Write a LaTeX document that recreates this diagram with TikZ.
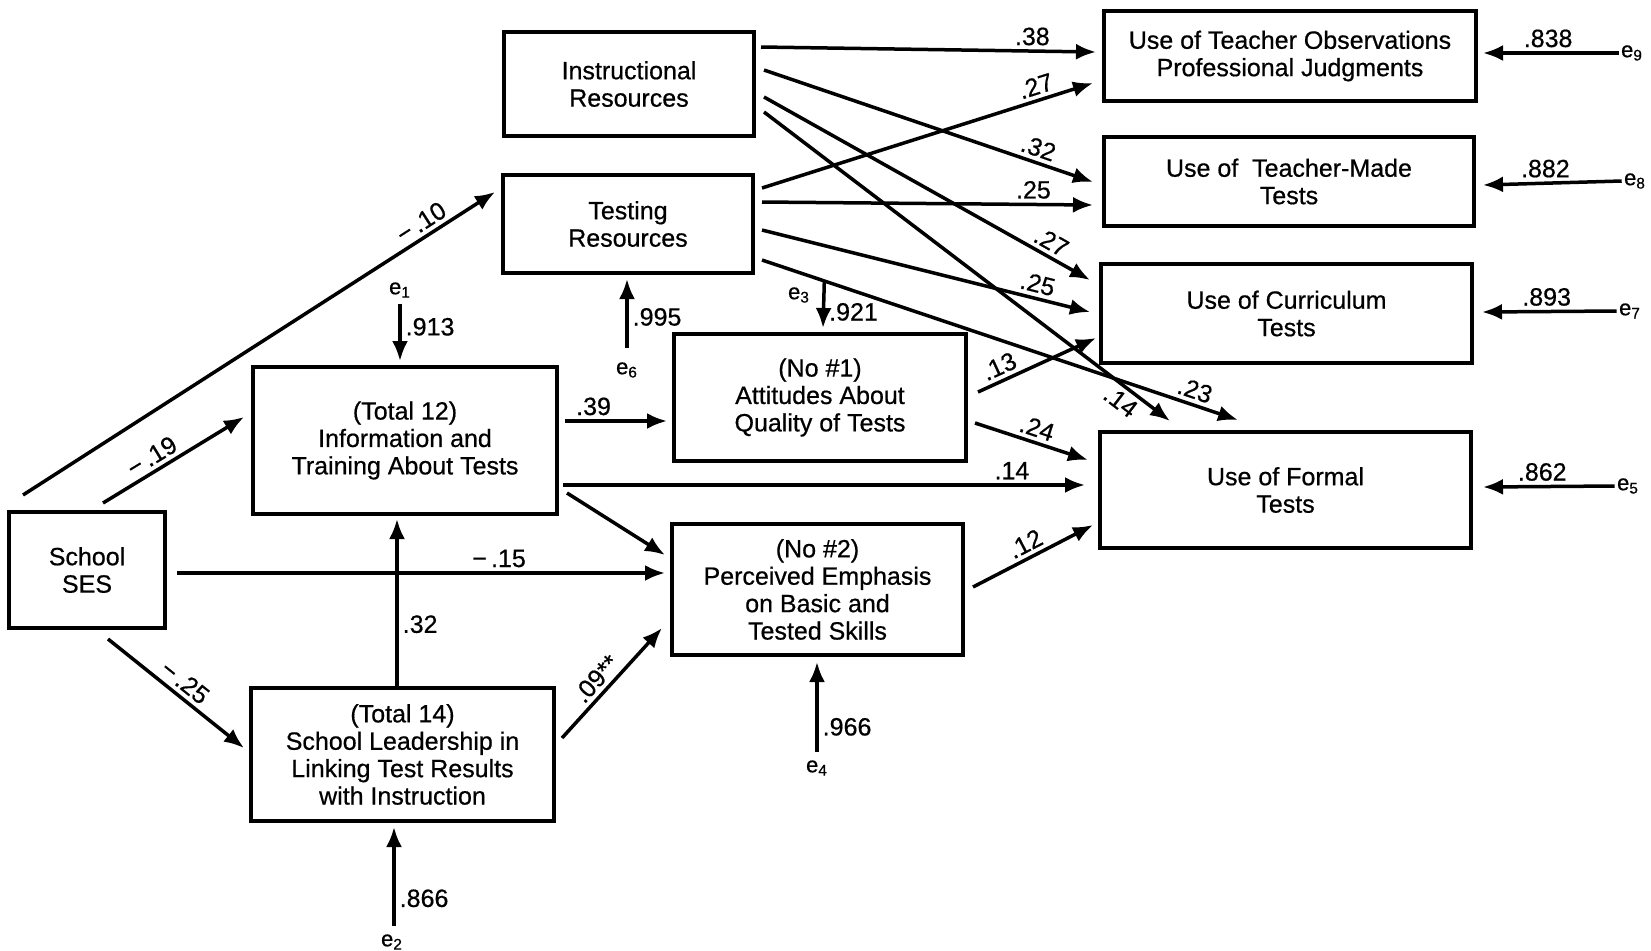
\documentclass[tikz,border=0pt]{standalone}
\usepackage{fontspec}
\setmainfont{Liberation Sans}[FakeBold=0.6,AutoFakeBold=0.6]
\usetikzlibrary{arrows.meta,calc}
\newcommand\boxfont{\fontsize{12.5pt}{13.7pt}\selectfont\bfseries}
\newcommand\errfont{\fontsize{11pt}{12pt}\selectfont\bfseries}
\begin{document}
\begin{tikzpicture}[x=0.5pt,y=-0.5pt,
  box/.style={draw, line width=2pt, inner sep=0pt, align=center, font=\boxfont},
  arr/.style={line width=1.75pt, -{Latex[length=10pt,width=8pt]}},
  lab/.style={font=\boxfont, inner sep=2pt},
  err/.style={font=\errfont, inner sep=1pt}]
\useasboundingbox[fill=white] (0,0) rectangle (1651,950);

% boxes
\node[box, minimum width=125pt, minimum height=52pt] (instr) at (629,84) {Instructional\\Resources};
\node[box, minimum width=125pt, minimum height=49pt] (testing) at (628,224) {Testing\\Resources};
\node[box, minimum width=186pt, minimum height=45pt] (obs) at (1290,56) {Use of Teacher Observations\\Professional Judgments};
\node[box, minimum width=185pt, minimum height=44.5pt] (made) at (1289,181.5) {Use of \ Teacher-Made\\Tests};
\node[box, minimum width=185.5pt, minimum height=49.5pt] (curr) at (1286.5,313.5) {Use of Curriculum\\Tests};
\node[box, minimum width=185.5pt, minimum height=58pt] (formal) at (1285.5,490) {Use of Formal\\Tests};
\node[box, minimum width=152pt, minimum height=73.5pt] (t12) at (405,440.5) {(Total 12)\\Information and\\Training About Tests};
\node[box, minimum width=146pt, minimum height=63.5pt] (att) at (820,397.5) {(No \#1)\\Attitudes About\\Quality of Tests};
\node[box, minimum width=145.5pt, minimum height=65.5pt] (emph) at (817.5,589.5) {(No \#2)\\Perceived Emphasis\\on Basic and\\Tested Skills};
\node[box, minimum width=78pt, minimum height=58pt] (ses) at (87,570) {School\\SES};
\node[box, minimum width=151.5pt, minimum height=66.5pt] (t14) at (402.5,754.5) {(Total 14)\\School Leadership in\\Linking Test Results\\with Instruction};

% error terms
\node[err] (e1) at (400,290) {e\textsubscript{1}};
\node[err] (e2) at (392,942) {e\textsubscript{2}};
\node[err] (e3) at (799,295) {e\textsubscript{3}};
\node[err] (e4) at (817,768) {e\textsubscript{4}};
\node[err] (e6) at (627,370) {e\textsubscript{6}};
\node[err] (e9) at (1632,53) {e\textsubscript{9}};
\node[err] (e8) at (1635,181) {e\textsubscript{8}};
\node[err] (e7) at (1630,311) {e\textsubscript{7}};
\node[err] (e5) at (1628,486) {e\textsubscript{5}};

% instructional resources outgoing
\draw[arr] ($(instr.east)+(5,-37)$) -- node[lab,pos=.81,above]{.38} ($(obs.west)+(-6,-4)$);
\draw[arr] ($(instr.east)+(8,-14)$) -- node[lab,pos=.82,above,sloped]{.32} ($(made.west)+(-9,0.5)$);
\draw[arr] ($(instr.east)+(8,13)$) -- node[lab,pos=.86,above,sloped]{.27} ($(curr.west)+(-9,-33.5)$);
\draw[arr] ($(instr.east)+(8,28)$) -- node[lab,pos=.9,below,sloped]{.14} ($(formal.north west)+(72,-9)$);

% testing resources outgoing
\draw[arr] ($(testing.east)+(7,-36)$) -- node[lab,pos=.84,above,sloped]{.27} ($(obs.west)+(-9,27)$);
\draw[arr] ($(testing.east)+(7,-22)$) -- node[lab,pos=.82,above]{.25} ($(made.west)+(-9,23.5)$);
\draw[arr] ($(testing.east)+(7,6)$) -- node[lab,pos=.83,above,sloped]{.25} ($(curr.west)+(-9,-1.5)$);
\draw[arr] ($(testing.east)+(7,36)$) -- node[lab,pos=.9,above,sloped]{.23} ($(formal.north)+(-47.5,-10)$);

% attitudes / emphasis outgoing
\draw[arr] ($(att.east)+(10,-5.5)$) -- node[lab,pos=.23,above,sloped]{.13} ($(curr.west)+(-3,24.5)$);
\draw[arr] ($(att.east)+(7,25.5)$) -- node[lab,pos=.51,above,sloped]{.24} ($(formal.west)+(-10,-30)$);
\draw[arr] ($(emph.east)+(8,-2.5)$) -- node[lab,pos=.49,above,sloped]{.12} ($(formal.west)+(-5,35)$);

% total 12 outgoing
\draw[arr] ($(t12.east)+(6,-19.5)$) -- node[lab,pos=.28,above]{.39} ($(att.west)+(-5,23.5)$);
\draw[arr] ($(t12.east)+(8,52.5)$) -- ($(emph.west)+(-5,-34.5)$);
\draw[arr] ($(t12.east)+(4,44.5)$) -- node[lab,pos=.86,above]{.14} ($(formal.west)+(-13,-5)$);

% school SES outgoing
\draw[arr] ($(ses.north west)+(16,-15)$) -- node[lab,pos=.86,above,sloped]{−\,.10} ($(testing.west)+(-6,-32)$);
\draw[arr] ($(ses.north)+(16,-7)$) -- node[lab,pos=.4,above,sloped]{−\,.19} ($(t12.west)+(-7,-23.5)$);
\draw[arr] ($(ses.east)+(10,3)$) -- node[lab,pos=.66,above]{−\,.15} ($(emph.west)+(-5,-16.5)$);
\draw[arr] ($(ses.south)+(21,9)$) -- node[lab,pos=.5,above,sloped]{−\,.25} ($(t14.west)+(-5,-6.5)$);

% total 14 outgoing
\draw[arr] ($(t14.north)+(-5.5,0)$) -- node[lab,pos=.37,right]{.32} ($(t12.south)+(-8,3)$);
\draw[arr] ($(t14.east)+(6,-16.5)$) -- node[lab,pos=.45,above,sloped]{.09**} ($(emph.west)+(-8,38.5)$);

% error arrows
\draw[arr] ($(e1.south)+(0,4)$) -- node[lab,pos=.4,right]{.913} ($(t12.north)+(-5,-4)$);
\draw[arr] ($(e2.north)+(2,-6)$) -- node[lab,pos=.28,right]{.866} ($(t14.south)+(-8.5,4)$);
\draw[arr] ($(e3.east)+(12,-13)$) -- node[lab,pos=.65,right]{.921} ($(att.north)+(3,-4)$);
\draw[arr] ($(e4.north)+(0,-6)$) -- node[lab,pos=.28,right]{.966} ($(emph.south)+(-0.5,5)$);
\draw[arr] ($(e6.north)+(0,-12)$) -- node[lab,pos=.45,right]{.995} ($(testing.south)+(-1,4)$);
\draw[arr] (e9.west) -- node[lab,pos=.52,above]{.838} ($(obs.east)+(5,-3)$);
\draw[arr] (e8.west) -- node[lab,pos=.55,above]{.882} ($(made.east)+(7,3.5)$);
\draw[arr] (e7.west) -- node[lab,pos=.52,above]{.893} ($(curr.east)+(8,-1.5)$);
\draw[arr] (e5.west) -- node[lab,pos=.55,above]{.862} ($(formal.east)+(10,-3)$);
\end{tikzpicture}
\end{document}
